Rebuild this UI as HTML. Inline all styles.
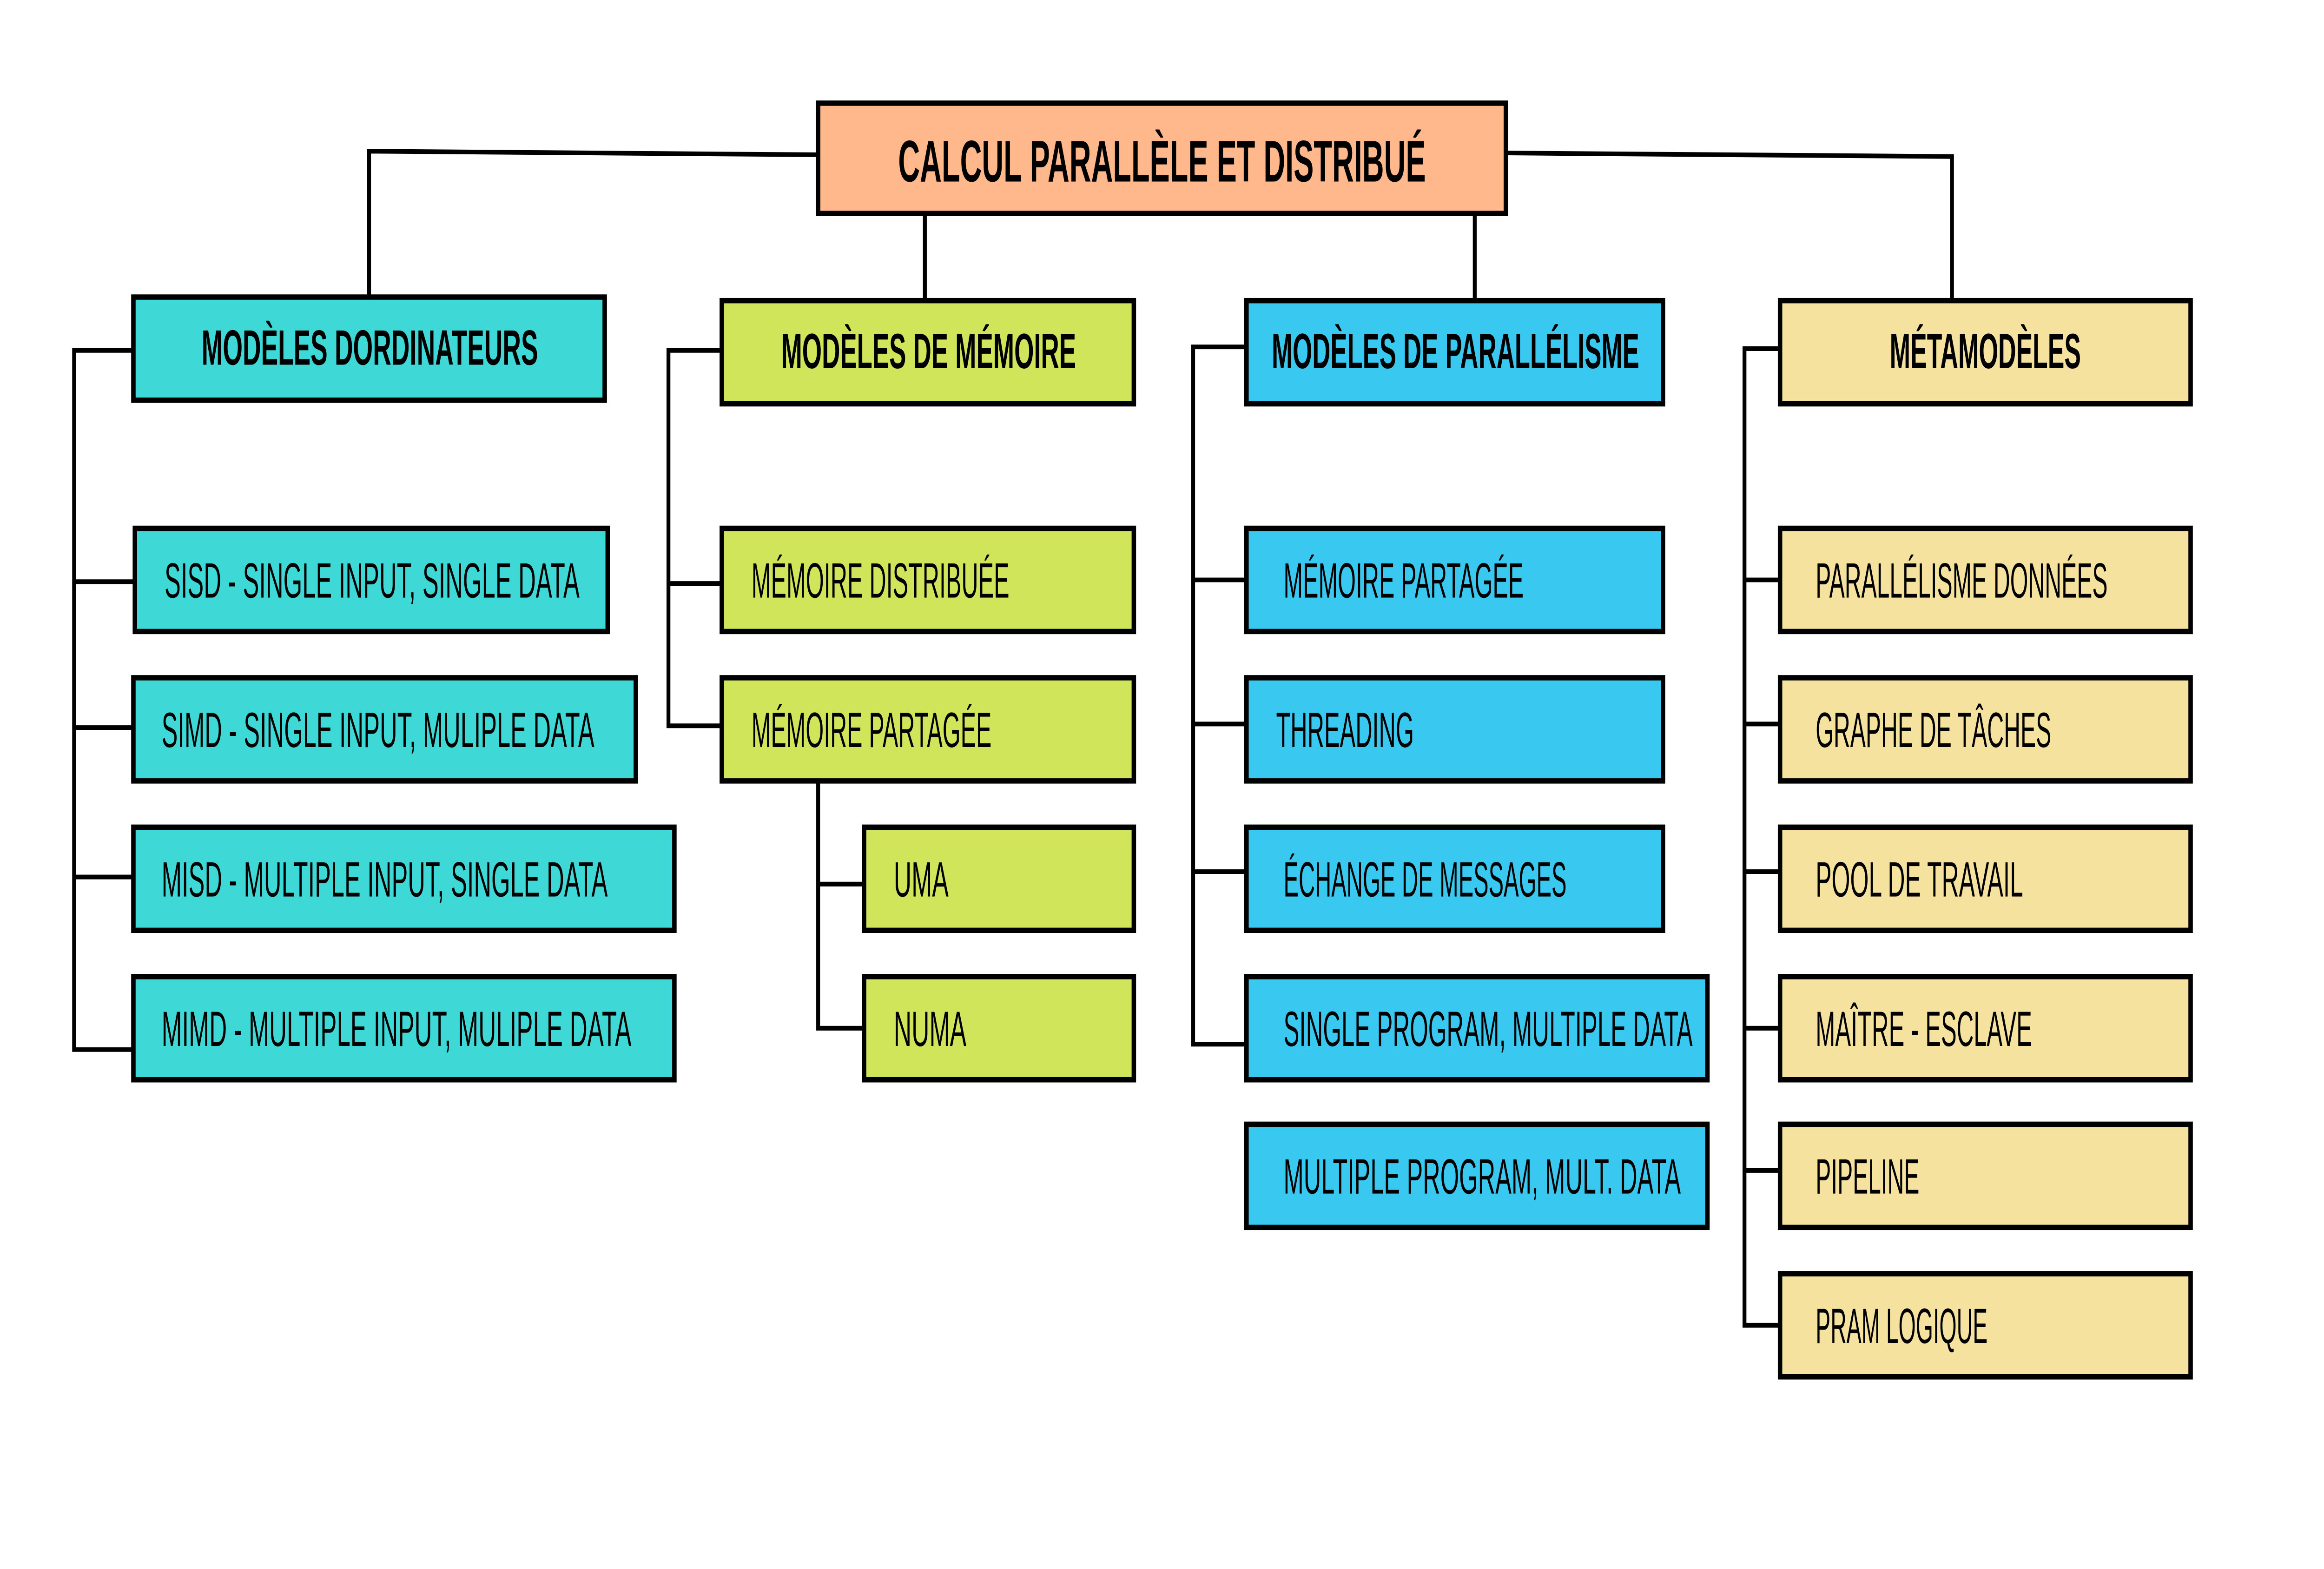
<!DOCTYPE html>
<html><head><meta charset="utf-8"><style>html,body{margin:0;padding:0;background:#fff;width:100%;height:100%;overflow:hidden}svg{display:block;width:100vw;height:100vh}</style></head>
<body>
<svg xmlns="http://www.w3.org/2000/svg" viewBox="0 0 1568 882" preserveAspectRatio="none">
<rect width="1568" height="882" fill="#fff"/>
<g fill="none" stroke="#000" stroke-width="2.6">
<path d="M552 87 L249 85 L249 166"/>
<path d="M1016 86 L1317 88 L1317 168"/>
<path d="M624 120 V168 M995 120 V168"/>
<path d="M90 197 H50 V590 H90 M50 327 H91 M50 409 H90 M50 493 H90"/>
<path d="M487 197 H451 V408 H487 M451 328 H487"/>
<path d="M552 439 V578 H583 M552 497 H583"/>
<path d="M841 195 H805 V587 H841 M805 326 H841 M805 407 H841 M805 490 H841"/>
<path d="M1201 196 H1177 V745 H1201 M1177 326 H1201 M1177 407 H1201 M1177 490 H1201 M1177 578 H1201 M1177 658 H1201"/>
</g>
<g stroke="#000" stroke-width="3">
<rect x="552" y="58" width="464" height="62" fill="#FFB88C"/>
<rect x="90" y="167" width="318" height="58" fill="#3ED9D6"/>
<rect x="91" y="297" width="319" height="58" fill="#3ED9D6"/>
<rect x="90" y="381" width="339" height="58" fill="#3ED9D6"/>
<rect x="90" y="465" width="365" height="58" fill="#3ED9D6"/>
<rect x="90" y="549" width="365" height="58" fill="#3ED9D6"/>
<rect x="487" y="169" width="278" height="58" fill="#D0E55A"/>
<rect x="487" y="297" width="278" height="58" fill="#D0E55A"/>
<rect x="487" y="381" width="278" height="58" fill="#D0E55A"/>
<rect x="583" y="465" width="182" height="58" fill="#D0E55A"/>
<rect x="583" y="549" width="182" height="58" fill="#D0E55A"/>
<rect x="841" y="169" width="281" height="58" fill="#38C8F0"/>
<rect x="841" y="297" width="281" height="58" fill="#38C8F0"/>
<rect x="841" y="381" width="281" height="58" fill="#38C8F0"/>
<rect x="841" y="465" width="281" height="58" fill="#38C8F0"/>
<rect x="841" y="549" width="311" height="58" fill="#38C8F0"/>
<rect x="841" y="632" width="311" height="58" fill="#38C8F0"/>
<rect x="1201" y="169" width="277" height="58" fill="#F5E29F"/>
<rect x="1201" y="297" width="277" height="58" fill="#F5E29F"/>
<rect x="1201" y="381" width="277" height="58" fill="#F5E29F"/>
<rect x="1201" y="465" width="277" height="58" fill="#F5E29F"/>
<rect x="1201" y="549" width="277" height="58" fill="#F5E29F"/>
<rect x="1201" y="632" width="277" height="58" fill="#F5E29F"/>
<rect x="1201" y="716" width="277" height="58" fill="#F5E29F"/>
</g>
<g font-family="'Liberation Sans Narrow','Liberation Sans',sans-serif" fill="#000">
<g font-weight="bold">
<text x="606" y="102" font-size="33" textLength="356" lengthAdjust="spacingAndGlyphs">CALCUL PARALLÈLE ET DISTRIBUÉ</text>
<text x="136" y="205" font-size="28" textLength="227" lengthAdjust="spacingAndGlyphs">MODÈLES DORDINATEURS</text>
<text x="527" y="207" font-size="28" textLength="199" lengthAdjust="spacingAndGlyphs">MODÈLES DE MÉMOIRE</text>
<text x="858" y="207" font-size="28" textLength="248" lengthAdjust="spacingAndGlyphs">MODÈLES DE PARALLÉLISME</text>
<text x="1275" y="207" font-size="28" textLength="129" lengthAdjust="spacingAndGlyphs">MÉTAMODÈLES</text>
</g>
<g font-size="28">
<text x="111" y="336" textLength="280" lengthAdjust="spacingAndGlyphs">SISD  - SINGLE INPUT, SINGLE DATA</text>
<text x="109" y="420" textLength="292" lengthAdjust="spacingAndGlyphs">SIMD - SINGLE INPUT, MULIPLE DATA</text>
<text x="109" y="504" textLength="301" lengthAdjust="spacingAndGlyphs">MISD - MULTIPLE INPUT, SINGLE DATA</text>
<text x="109" y="588" textLength="317" lengthAdjust="spacingAndGlyphs">MIMD - MULTIPLE INPUT, MULIPLE DATA</text>
<text x="507" y="336" textLength="174" lengthAdjust="spacingAndGlyphs">MÉMOIRE DISTRIBUÉE</text>
<text x="507" y="420" textLength="162" lengthAdjust="spacingAndGlyphs">MÉMOIRE PARTAGÉE</text>
<text x="603" y="504" textLength="37" lengthAdjust="spacingAndGlyphs">UMA</text>
<text x="603" y="588" textLength="49" lengthAdjust="spacingAndGlyphs">NUMA</text>
<text x="866" y="336" textLength="162" lengthAdjust="spacingAndGlyphs">MÉMOIRE PARTAGÉE</text>
<text x="861" y="420" textLength="93" lengthAdjust="spacingAndGlyphs">THREADING</text>
<text x="866" y="504" textLength="191" lengthAdjust="spacingAndGlyphs">ÉCHANGE DE MESSAGES</text>
<text x="866" y="588" textLength="276" lengthAdjust="spacingAndGlyphs">SINGLE PROGRAM, MULTIPLE DATA</text>
<text x="866" y="671" textLength="268" lengthAdjust="spacingAndGlyphs">MULTIPLE PROGRAM, MULT. DATA</text>
<text x="1225" y="336" textLength="197" lengthAdjust="spacingAndGlyphs">PARALLÉLISME DONNÉES</text>
<text x="1225" y="420" textLength="159" lengthAdjust="spacingAndGlyphs">GRAPHE DE TÂCHES</text>
<text x="1225" y="504" textLength="140" lengthAdjust="spacingAndGlyphs">POOL DE TRAVAIL</text>
<text x="1225" y="588" textLength="146" lengthAdjust="spacingAndGlyphs">MAÎTRE - ESCLAVE</text>
<text x="1225" y="671" textLength="70" lengthAdjust="spacingAndGlyphs">PIPELINE</text>
<text x="1225" y="755" textLength="116" lengthAdjust="spacingAndGlyphs">PRAM LOGIQUE</text>
</g>
</g>
</svg>
</body></html>
